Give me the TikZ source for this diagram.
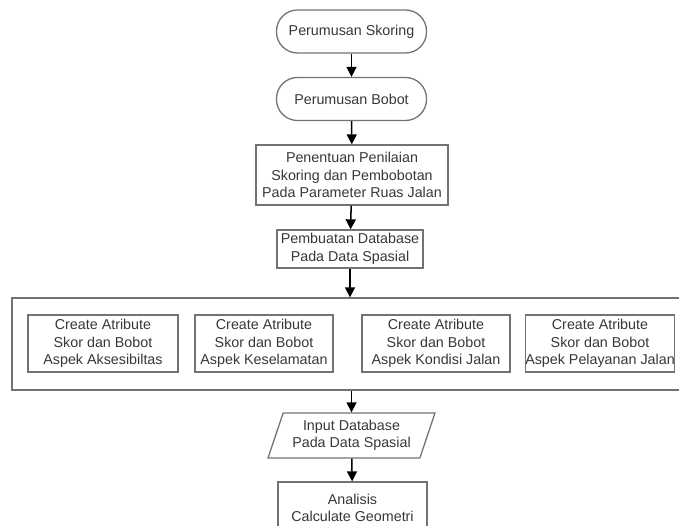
\documentclass[tikz,border=0pt]{standalone}
\usepackage{fontspec}
\setmainfont{Liberation Sans}
\usetikzlibrary{shapes.geometric, arrows.meta}
\definecolor{FlowText}{RGB}{55,55,55}
\definecolor{FlowLine}{RGB}{115,115,115}

\begin{document}
\begin{tikzpicture}[x=1pt, y=-1pt,
    base/.style={draw=FlowLine, line width=1.3pt, text=FlowText, align=center,
                 font=\fontsize{14.3}{17.5}\selectfont, inner sep=0pt},
    term/.style={base, rounded corners=21pt, minimum width=150pt, minimum height=43pt},
    proc/.style={base, rectangle},
    flow/.style={line width=1.5pt, -{Triangle[length=10pt, width=10pt]}}]
  % page frame (the box at the bottom runs off the page)
  \clip (0,0) rectangle (679,526);

  % Top of the chart
  \node[term] (skor) at (351.5,31.5) {Perumusan Skoring};
  \node[term] (bobot) at (351.5,99) {Perumusan Bobot};
  \node[proc, minimum width=192pt, minimum height=60pt] (nilai) at (352,175)
        {Penentuan Penilaian\\Skoring dan Pembobotan\\Pada Parameter Ruas Jalan};
  \node[proc, minimum width=146pt, minimum height=38pt] (dbase) at (350,249)
        {Pembuatan Database\\Pada Data Spasial};

  % Group of attribute boxes
  \node[proc, minimum width=678pt, minimum height=92pt] (grp) at (351,344) {};
  \node[proc, minimum width=150pt, minimum height=57pt] (akses) at (103,343.5)
        {Create Atribute\\Skor dan Bobot\\Aspek Aksesibiltas};
  \node[proc, minimum width=138pt, minimum height=57pt] (selamat) at (264,343.5)
        {Create Atribute\\Skor dan Bobot\\Aspek Keselamatan};
  \node[proc, minimum width=148pt, minimum height=57pt] (kondisi) at (436,343.5)
        {Create Atribute\\Skor dan Bobot\\Aspek Kondisi Jalan};
  \node[proc, minimum width=146pt, minimum height=57pt] (layan) at (600,343.5)
        {Create Atribute\\Skor dan Bobot\\Aspek Pelayanan Jalan};

  % Bottom of the chart
  \node[base, trapezium, trapezium stretches=true, trapezium left angle=67,
        trapezium right angle=113, minimum width=167pt, minimum height=45pt]
        (input) at (351.5,435.5) {Input Database\\Pada Data Spasial};
  \node[proc, minimum width=149pt, minimum height=52pt] (geom) at (352.5,508)
        {Analisis\\Calculate Geometri};

  % Connectors
  \draw[flow] (skor) -- (bobot);
  \draw[flow] (bobot) -- (nilai);
  \draw[flow] (nilai) -- (dbase);
  \draw[flow] (dbase.south) -- (dbase.south |- grp.north);
  \draw[flow] (grp.south -| input.north) -- (input.north);
  \draw[flow] (input) -- (geom);
\end{tikzpicture}
\end{document}
